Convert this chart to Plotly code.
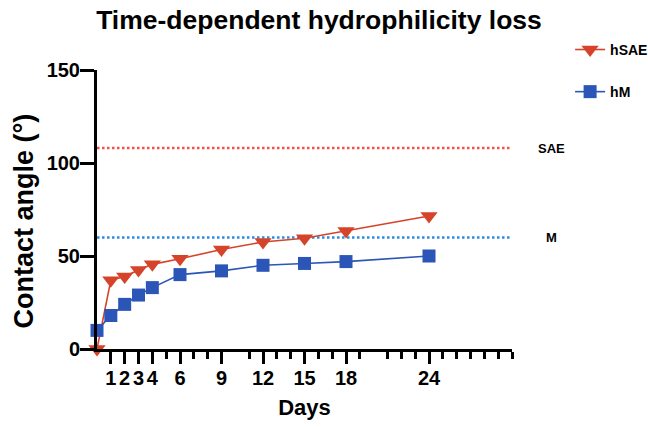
import plotly.graph_objects as go

days = [0, 1, 2, 3, 4, 6, 9, 12, 15, 18, 24]
hsae = [0, 37, 39, 42.5, 45.5, 48.5, 53.5, 57.5, 59.5, 63.5, 71.5]
hm = [10, 18, 24, 29, 33, 40, 42, 45, 46, 47, 50]
sae_ref = 108
m_ref = 60
x_major = [1, 2, 3, 4, 6, 9, 12, 15, 18, 24]
x_minor = [5, 7, 8, 11, 13, 14, 16, 17, 19, 21, 22, 23, 25, 26, 27, 28, 29, 30]
y_ticks = [0, 50, 100, 150]

RED = "#D5432B"
BLUE = "#2B55B6"
FONT = "Liberation Sans"

fig = go.Figure()
fig.add_trace(go.Scatter(
    x=days, y=hsae, name="hSAE", mode="lines+markers",
    line=dict(color=RED, width=1.6),
    marker=dict(symbol="triangle-down", size=15, color=RED),
    cliponaxis=False, showlegend=True, legend="legend"))
fig.add_trace(go.Scatter(
    x=days, y=hm, name="hM", mode="lines+markers",
    line=dict(color=BLUE, width=1.6),
    marker=dict(symbol="square", size=13, color=BLUE),
    cliponaxis=False, showlegend=True, legend="legend2"))

fig.add_shape(type="line", xref="x", yref="y", x0=0, x1=30, y0=sae_ref, y1=sae_ref,
              line=dict(color="#EE5548", width=2.5, dash="2.5px,2.5px"), layer="below")
fig.add_shape(type="line", xref="x", yref="y", x0=0, x1=30, y0=m_ref, y1=m_ref,
              line=dict(color="#2D8CE0", width=2.5, dash="2.5px,2.5px"), layer="below")

fig.add_annotation(text="<b>SAE</b>", xref="paper", yref="y", x=1.096, y=sae_ref,
                   xanchor="center", yanchor="middle",
                   showarrow=False, font=dict(family=FONT, size=13, color="black"))
fig.add_annotation(text="<b>M</b>", xref="paper", yref="y", x=1.096, y=m_ref,
                   xanchor="center", yanchor="middle",
                   showarrow=False, font=dict(family=FONT, size=13, color="black"))
fig.add_annotation(text="<b>Contact angle (°)</b>", xref="paper", yref="paper",
                   x=-0.177, y=0.459, xanchor="center", yanchor="middle", textangle=-90,
                   showarrow=False, font=dict(family=FONT, size=27, color="black"))

fig.update_layout(
    width=648, height=427,
    margin=dict(l=97, r=136, t=70, b=78, autoexpand=False),
    plot_bgcolor="white", paper_bgcolor="white",
    showlegend=True,
    title=dict(text="<b>Time-dependent hydrophilicity loss</b>", x=319/648, xanchor="center",
               y=1 - 20/427, yanchor="middle",
               font=dict(family=FONT, size=26.5, color="black")),
    legend=dict(x=1.14, y=1.072, xanchor="left", yanchor="middle",
                font=dict(family=FONT, size=14, color="black", weight="bold"),
                bgcolor="rgba(0,0,0,0)"),
    legend2=dict(x=1.14, y=0.921, xanchor="left", yanchor="middle",
                 font=dict(family=FONT, size=14, color="black", weight="bold"),
                 bgcolor="rgba(0,0,0,0)"),
    xaxis=dict(range=[0, 30], showgrid=False, zeroline=False,
               showline=True, linecolor="black", linewidth=3,
               tickmode="array", tickvals=x_major, ticktext=[str(v) for v in x_major],
               tickangle=0,
               ticks="outside", ticklen=12, tickwidth=2.5, tickcolor="black",
               ticklabelstandoff=-3,
               minor=dict(tickmode="array", tickvals=x_minor, ticks="outside",
                          ticklen=7, tickwidth=2.5, tickcolor="black", showgrid=False),
               tickfont=dict(family=FONT, size=20, color="black", weight="bold"),
               title=dict(text="<b>Days</b>", standoff=12,
                          font=dict(family=FONT, size=22, color="black"))),
    yaxis=dict(range=[0, 150], showgrid=False, zeroline=False,
               showline=True, linecolor="black", linewidth=3,
               tickmode="array", tickvals=y_ticks,
               ticks="outside", ticklen=14, tickwidth=3, tickcolor="black",
               ticklabelstandoff=-4,
               tickfont=dict(family=FONT, size=20, color="black", weight="bold")),
)

fig.write_html("out.html")
